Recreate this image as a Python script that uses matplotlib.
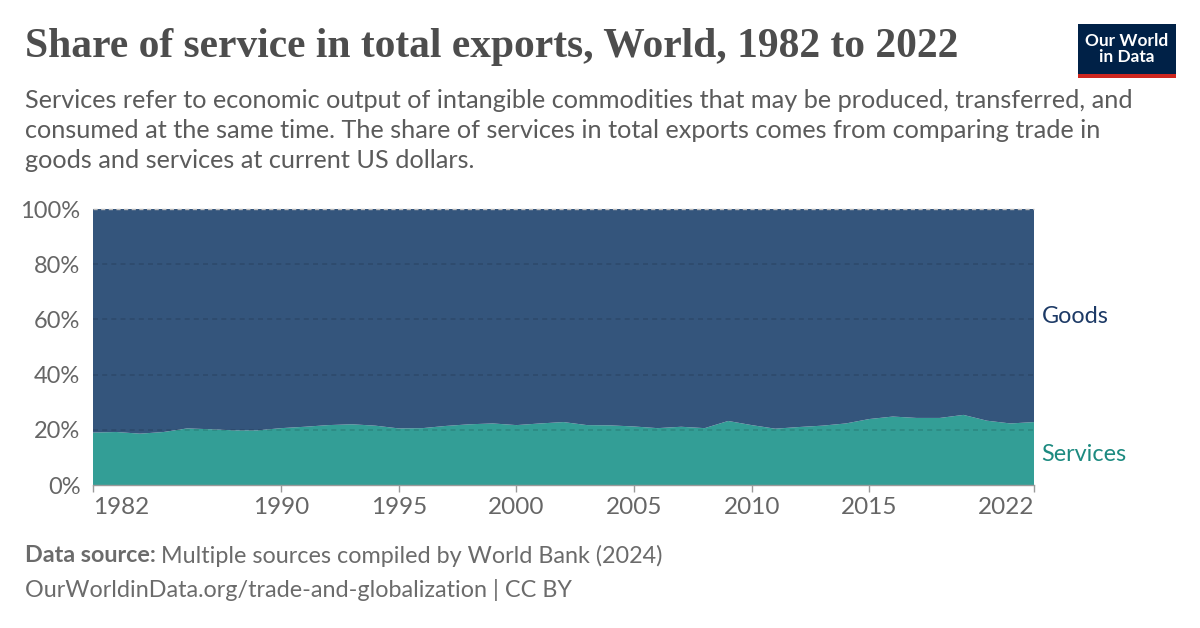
import matplotlib
matplotlib.use("Agg")
import matplotlib.pyplot as plt
from matplotlib.patches import Rectangle

# Data (share of services in total exports, %)
years = list(range(1982, 2023))
services = [19.0, 19.2, 18.6, 19.2, 20.5, 20.2, 19.8, 19.8, 20.6, 21.1,
            21.7, 22.0, 21.5, 20.5, 20.6, 21.4, 22.0, 22.3, 21.7, 22.3,
            22.8, 21.7, 21.6, 21.2, 20.6, 21.1, 20.6, 23.2, 21.7, 20.4,
            21.0, 21.5, 22.3, 23.9, 24.8, 24.3, 24.3, 25.4, 23.3, 22.3,
            22.8]
goods = [100 - s for s in services]

x_ticks = [1982, 1990, 1995, 2000, 2005, 2010, 2015, 2022]
y_ticks = [0, 20, 40, 60, 80, 100]

W, H = 1200, 628
fig = plt.figure(figsize=(W / 100, H / 100), dpi=100)

def px(x, y):
    return x / W, 1 - y / H

# plot area
left, right, top, bottom = 93, 1034, 209, 485
ax = fig.add_axes([left / W, 1 - bottom / H, (right - left) / W, (bottom - top) / H])

ax.stackplot(years, services, goods, colors=["#339e96", "#34557c"], linewidth=0)
ax.set_xlim(1982, 2022)
ax.set_ylim(0, 100)

for v in y_ticks[1:-1]:
    ax.axhline(v, color="black", lw=1.2, ls=(0, (3, 2.5)), alpha=0.13, zorder=3)
ax.axhline(100, color="#bbbbbb", lw=1, ls=(0, (3, 2.5)), zorder=3, clip_on=False)

for s in ["top", "right", "left"]:
    ax.spines[s].set_visible(False)
ax.spines["bottom"].set_color("#9a9a9a")
ax.spines["bottom"].set_linewidth(1)

ax.set_xticks(x_ticks)
ax.set_xticklabels([str(t) for t in x_ticks], fontfamily="Lato", fontsize=17.5, color="#666666")
labels = ax.get_xticklabels()
labels[0].set_ha("left")
labels[-1].set_ha("right")
ax.set_yticks(y_ticks)
ax.set_yticklabels([f"{t}%" for t in y_ticks], fontfamily="Lato", fontsize=17, color="#666666")
ax.tick_params(axis="x", length=5, width=1, color="#9a9a9a", pad=4)
ax.tick_params(axis="y", length=0, pad=9)

# series labels
ax.text(1.008, 0.61, "Goods", transform=ax.transAxes, fontfamily="Lato",
        fontsize=16.8, color="#1d3a66", va="center")
ax.text(1.008, 0.11, "Services", transform=ax.transAxes, fontfamily="Lato",
        fontsize=16.8, color="#1c8a80", va="center")

# title and subtitle
fig.text(*px(25, 47), "Share of service in total exports, World, 1982 to 2022",
         fontfamily="Liberation Serif", fontweight="bold", fontsize=29.9,
         color="#4d4d4d", va="center")
subtitle = ("Services refer to economic output of intangible commodities that may be produced, transferred, and\n"
            "consumed at the same time. The share of services in total exports comes from comparing trade in\n"
            "goods and services at current US dollars.")
fig.text(*px(25, 89), subtitle, fontfamily="Lato", fontsize=18.2, color="#5b5b5b",
         va="top", linespacing=1.36)

# footer
t1 = fig.text(*px(25, 556), "Data source:", fontfamily="Lato", fontweight="bold",
              fontsize=16.8, color="#6b6b6b", va="center")
fig.canvas.draw()
bb = t1.get_window_extent()
fig.text(bb.x1 / W + 5 / W, 1 - 556 / H, "Multiple sources compiled by World Bank (2024)",
         fontfamily="Lato", fontsize=16.8, color="#6b6b6b", va="center")
fig.text(*px(25, 590), "OurWorldinData.org/trade-and-globalization | CC BY",
         fontfamily="Lato", fontsize=16.8, color="#6b6b6b", va="center")

# logo
fig.patches.append(Rectangle(px(1078, 78), 98 / W, 54 / H, transform=fig.transFigure,
                             facecolor="#002147", edgecolor="none"))
fig.patches.append(Rectangle(px(1078, 78), 98 / W, 4 / H, transform=fig.transFigure,
                             facecolor="#ce261e", edgecolor="none"))
fig.text(*px(1127, 49), "Our World\nin Data", fontfamily="Lato", fontweight="bold",
         fontsize=12.4, color="white", ha="center", va="center", linespacing=1.05)

fig.savefig("out.png", dpi=100)
